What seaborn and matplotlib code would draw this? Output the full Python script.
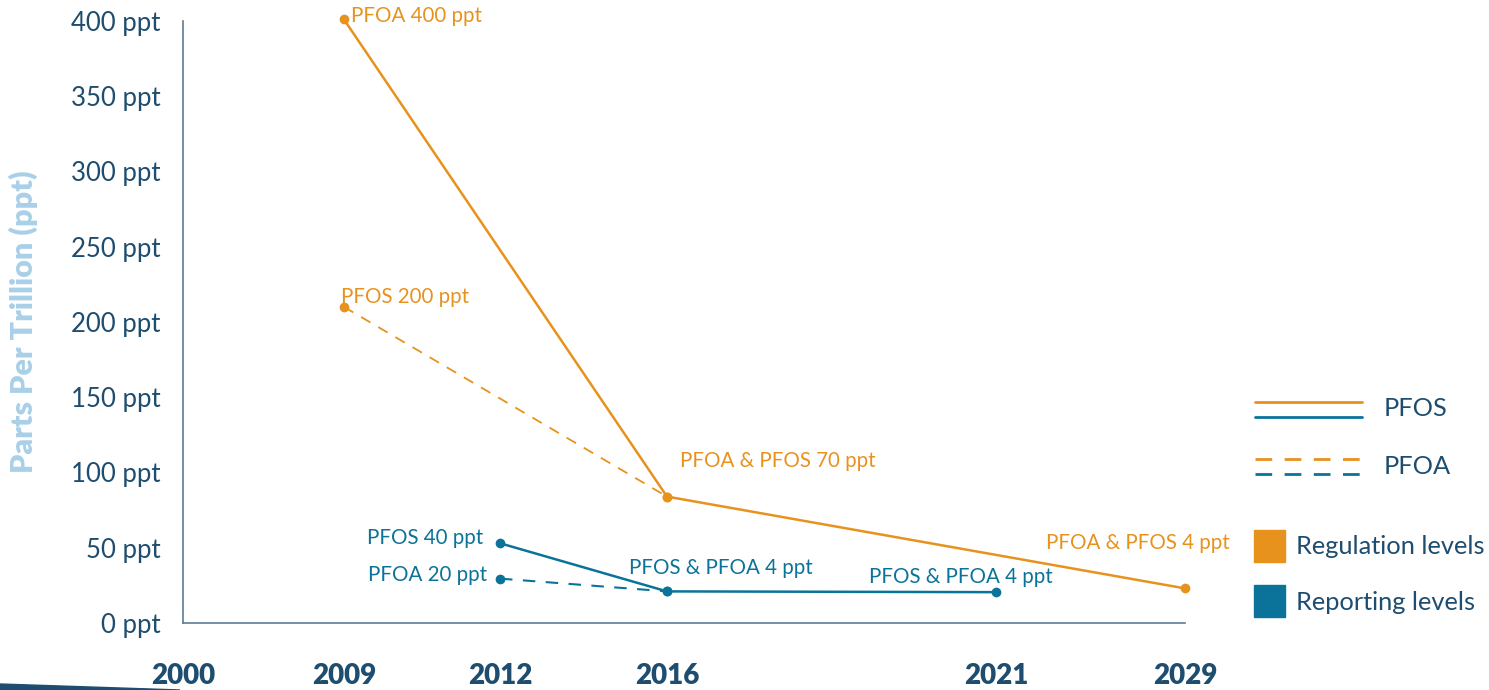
import pandas as pd
import matplotlib.pyplot as plt
import seaborn as sns
from matplotlib.lines import Line2D
from matplotlib.patches import Rectangle, Polygon

sns.set_style("white")
plt.rcParams['font.family'] = ['Lato', 'DejaVu Sans']

# ------------------------------
# Data
# ------------------------------
years = [2000, 2009, 2012, 2016, 2021, 2029]
y_ticks = [0, 50, 100, 150, 200, 250, 300, 350, 400]

# regulation levels (orange)
reg_solid_years = [2009, 2016, 2029]
reg_solid_ppt = [401, 84, 23]
reg_dash_years = [2009, 2016]
reg_dash_ppt = [210, 84]

# reporting levels (blue)
rep_solid_years = [2012, 2016, 2021]
rep_solid_ppt = [53, 21, 20.5]
rep_dash_years = [2012, 2016]
rep_dash_ppt = [29.5, 21]

# uneven spacing of the year axis in the original
year_spacing = {2000: 0, 2009: 161, 2012: 317, 2016: 484, 2021: 813, 2029: 1002}

ORANGE = '#E8921E'
BLUE = '#0B7399'
NAVY = '#1E4D6F'
AXIS = '#5E7C97'
LIGHT = '#A9D0E8'


def frame(yrs, vals):
    return pd.DataFrame({'x': [year_spacing[y] for y in yrs], 'ppt': vals})


fig = plt.figure(figsize=(14.89, 6.90), dpi=100)
ax = fig.add_axes([0.1229, 0.0971, 0.7958 - 0.1229, 0.9696 - 0.0971])

series = [
    (reg_dash_years, reg_dash_ppt, ORANGE, (6, 5), 1.3),
    (rep_dash_years, rep_dash_ppt, BLUE, (6, 5), 1.5),
    (reg_solid_years, reg_solid_ppt, ORANGE, None, 1.8),
    (rep_solid_years, rep_solid_ppt, BLUE, None, 1.8),
]
for yrs, vals, col, dash, lw in series:
    d = frame(yrs, vals)
    sns.lineplot(data=d, x='x', y='ppt', color=col, lw=lw, marker='o',
                 markersize=7, markeredgewidth=0, ax=ax)
    ax.lines[-1].set_clip_on(False)
    if dash:
        ax.lines[-1].set_dashes(dash)

ax.set_xlim(0, year_spacing[2029])
ax.set_ylim(0, 400)
ax.set_xlabel('')
ax.set_ylabel('Parts Per Trillion (ppt)', fontsize=22, fontweight='heavy',
              color=LIGHT)
ax.yaxis.set_label_coords(-0.145, 0.5)

ax.set_yticks(y_ticks)
ax.set_yticklabels([f'{v} ppt' for v in y_ticks], fontsize=18.5, color=NAVY)
ax.set_xticks([year_spacing[y] for y in years])
ax.set_xticklabels([str(y) for y in years], fontsize=20, fontweight='heavy', color=NAVY)
ax.tick_params(axis='y', direction='in', length=25, width=1, color=AXIS, pad=16)
ax.tick_params(axis='x', direction='in', length=11, width=1, color=AXIS, pad=29)

sns.despine(ax=ax)
for s in ['left', 'bottom']:
    ax.spines[s].set_color(AXIS)
    ax.spines[s].set_linewidth(1.2)

# ------------------------------
# Annotations
# ------------------------------
notes = [
    ('PFOA 400 ppt', 2009, reg_solid_ppt[0], ORANGE, (7, 3), 'left'),
    ('PFOS 200 ppt', 2009, reg_dash_ppt[0], ORANGE, (-3, 10), 'left'),
    ('PFOA & PFOS 70 ppt', 2016, reg_solid_ppt[1], ORANGE, (13, 36), 'left'),
    ('PFOA & PFOS 4 ppt', 2029, reg_solid_ppt[2], ORANGE, (45, 45), 'right'),
    ('PFOS 40 ppt', 2012, rep_solid_ppt[0], BLUE, (-17, 5), 'right'),
    ('PFOA 20 ppt', 2012, rep_dash_ppt[0], BLUE, (-13, 4), 'right'),
    ('PFOS & PFOA 4 ppt', 2016, rep_solid_ppt[1], BLUE, (-38, 23), 'left'),
    ('PFOS & PFOA 4 ppt', 2021, rep_solid_ppt[2], BLUE, (-127, 15), 'left'),
]
for txt, yr, val, col, off, ha in notes:
    ax.annotate(txt, xy=(year_spacing[yr], val), xytext=off, textcoords='offset pixels',
                ha=ha, va='center', fontsize=14.8, color=col, annotation_clip=False)

# ------------------------------
# Legend (drawn by hand, figure coords)
# ------------------------------
W, H = 1489, 690


def fx(px):
    return px / W


def fy(py):
    return 1 - py / H


for yy, col in [(402, ORANGE), (417, BLUE)]:
    fig.add_artist(Line2D([fx(1255), fx(1362)], [fy(yy), fy(yy)], color=col, lw=2))
for yy, col in [(459, ORANGE), (474, BLUE)]:
    fig.add_artist(Line2D([fx(1255), fx(1362)], [fy(yy), fy(yy)], color=col, lw=2,
                          dashes=(6, 4.5)))
fig.text(fx(1384), fy(409), 'PFOS', fontsize=18.3, color=NAVY, va='center')
fig.text(fx(1384), fy(466), 'PFOA', fontsize=18.3, color=NAVY, va='center')

fig.add_artist(Rectangle((fx(1254), fy(562)), fx(31), 32 / H, color=ORANGE))
fig.add_artist(Rectangle((fx(1254), fy(617)), fx(31), 32 / H, color=BLUE))
fig.text(fx(1296), fy(546), 'Regulation levels', fontsize=18.3, color=NAVY, va='center')
fig.text(fx(1296), fy(602), 'Reporting levels', fontsize=18.3, color=NAVY, va='center')

# decorative swoosh bottom-left
fig.add_artist(Polygon([(0, 0), (0, fy(684)), (fx(180), 0)], closed=True, color=NAVY))

plt.savefig('out.png', dpi=100)
